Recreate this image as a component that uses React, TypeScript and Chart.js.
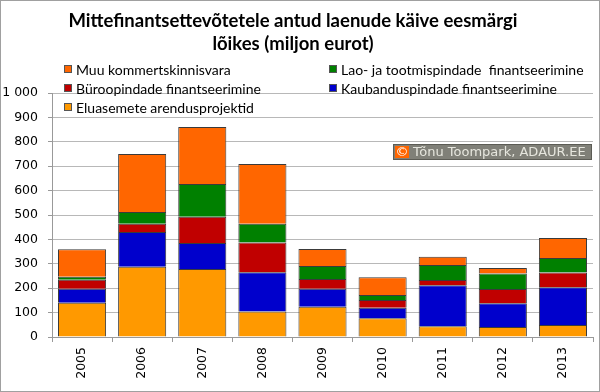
import React, { useEffect, useRef } from "react";
import { Chart, registerables } from "chart.js";

Chart.register(...registerables);

const years = ["2005", "2006", "2007", "2008", "2009", "2010", "2011", "2012", "2013"];
const eluasemete = [140, 288, 279, 105, 124, 77, 44, 41, 49];
const kaubandus = [58, 142, 106, 160, 74, 43, 168, 97, 155];
const buroo = [37, 34, 108, 122, 40, 32, 22, 59, 60];
const lao = [12, 48, 134, 77, 53, 20, 61, 63, 60];
const muu = [113, 238, 234, 245, 70, 73, 34, 23, 82];

const titleLines = ["Mittefinantsettevõtetele antud laenude käive eesmärgi", "lõikes (miljon eurot)"];
const watermark = "Tõnu Toompark, ADAUR.EE";

const C_ELU = "#FF9900";
const C_KAU = "#0000CC";
const C_BUR = "#C00000";
const C_LAO = "#008000";
const C_MUU = "#FF6600";

const legendItems = [
  { label: "Muu kommertskinnisvara", color: C_MUU, col: 0, row: 0 },
  { label: "Lao- ja tootmispindade  finantseerimine", color: C_LAO, col: 1, row: 0 },
  { label: "Büroopindade finantseerimine", color: C_BUR, col: 0, row: 1 },
  { label: "Kaubanduspindade finantseerimine", color: C_KAU, col: 1, row: 1 },
  { label: "Eluasemete arendusprojektid", color: C_ELU, col: 0, row: 2 },
];

const decorPlugin = {
  id: "decor",
  afterDraw(chart: any) {
    const ctx = chart.ctx as CanvasRenderingContext2D;
    ctx.save();
    // title
    ctx.fillStyle = "#000";
    ctx.font = "bold 18.5px Lato";
    ctx.textAlign = "center";
    ctx.textBaseline = "middle";
    ctx.fillText(titleLines[0], 293, 21);
    ctx.fillText(titleLines[1], 293, 44);
    // legend
    ctx.font = "14px Lato";
    ctx.textAlign = "left";
    const colX = [64, 329];
    const rowY = [69, 88, 107];
    for (const it of legendItems) {
      const x = colX[it.col];
      const y = rowY[it.row];
      ctx.fillStyle = it.color;
      ctx.fillRect(x, y - 4, 8, 8);
      ctx.strokeStyle = "#555";
      ctx.lineWidth = 1;
      ctx.strokeRect(x + 0.5, y - 3.5, 7, 7);
      ctx.fillStyle = "#000";
      ctx.fillText(it.label, x + 12, y + 1);
    }
    // watermark
    const bx = 393, by = 144, bw = 199, bh = 16;
    ctx.fillStyle = "#808078";
    ctx.fillRect(bx, by, bw, bh);
    ctx.strokeStyle = "#5c5c55";
    ctx.strokeRect(bx + 0.5, by + 0.5, bw - 1, bh - 1);
    ctx.fillStyle = "#FF6600";
    ctx.fillRect(bx + 2, by + 2, 14, bh - 4);
    ctx.fillStyle = "#fff";
    ctx.font = "13px 'DejaVu Sans'";
    ctx.textAlign = "center";
    ctx.fillText("©", bx + 9, by + bh / 2 + 1);
    ctx.fillStyle = "#e6e6de";
    ctx.textAlign = "left";
    ctx.fillText(watermark, bx + 20, by + bh / 2 + 1);
    // outer border
    ctx.strokeStyle = "#a0a0a0";
    ctx.lineWidth = 1;
    ctx.strokeRect(0.5, 0.5, chart.width - 1, chart.height - 1);
    ctx.restore();
  },
};

export default function App() {
  const ref = useRef<HTMLCanvasElement | null>(null);
  useEffect(() => {
    if (!ref.current) return;
    const mk = (label: string, data: number[], color: string) => ({
      label,
      data,
      backgroundColor: color,
      borderColor: "#3a3a3a",
      borderWidth: 1,
      categoryPercentage: 0.8,
      barPercentage: 1,
    });
    const chart = new Chart(ref.current, {
      type: "bar",
      data: {
        labels: years,
        datasets: [
          mk("Eluasemete arendusprojektid", eluasemete, C_ELU),
          mk("Kaubanduspindade finantseerimine", kaubandus, C_KAU),
          mk("Büroopindade finantseerimine", buroo, C_BUR),
          mk("Lao- ja tootmispindade  finantseerimine", lao, C_LAO),
          mk("Muu kommertskinnisvara", muu, C_MUU),
        ],
      },
      options: {
        responsive: false,
        animation: false,
        layout: { padding: { top: 93, right: 7, left: 0, bottom: 0 } },
        plugins: { legend: { display: false }, title: { display: false }, tooltip: { enabled: false } },
        scales: {
          x: {
            stacked: true,
            afterFit: (s: any) => { s.height = 55; },
            grid: { offset: true, drawOnChartArea: false, drawTicks: true, tickLength: 5, color: "#999" },
            border: { color: "#999" },
            ticks: {
              minRotation: 90,
              maxRotation: 90,
              color: "#000",
              font: { family: "'DejaVu Sans'", size: 12.5 },
              padding: 5,
            },
          },
          y: {
            stacked: true,
            min: 0,
            max: 1000,
            afterFit: (s: any) => { s.width = 52; },
            grid: { color: "#b8b8b8", tickLength: 4, tickColor: "#999" },
            border: { color: "#999" },
            ticks: {
              stepSize: 100,
              color: "#000",
              padding: 10,
              font: { family: "'DejaVu Sans'", size: 12.5 },
              callback: (v: any) => (v >= 1000 ? "1 000" : String(v)),
            },
          },
        },
      },
      plugins: [decorPlugin],
    } as any);
    return () => chart.destroy();
  }, []);
  return (
    <div style={{ position: "absolute", left: 0, top: 0, width: 600, height: 392, background: "#fff" }}>
      <canvas ref={ref} width={600} height={392} style={{ display: "block", width: 600, height: 392 }} />
    </div>
  );
}
